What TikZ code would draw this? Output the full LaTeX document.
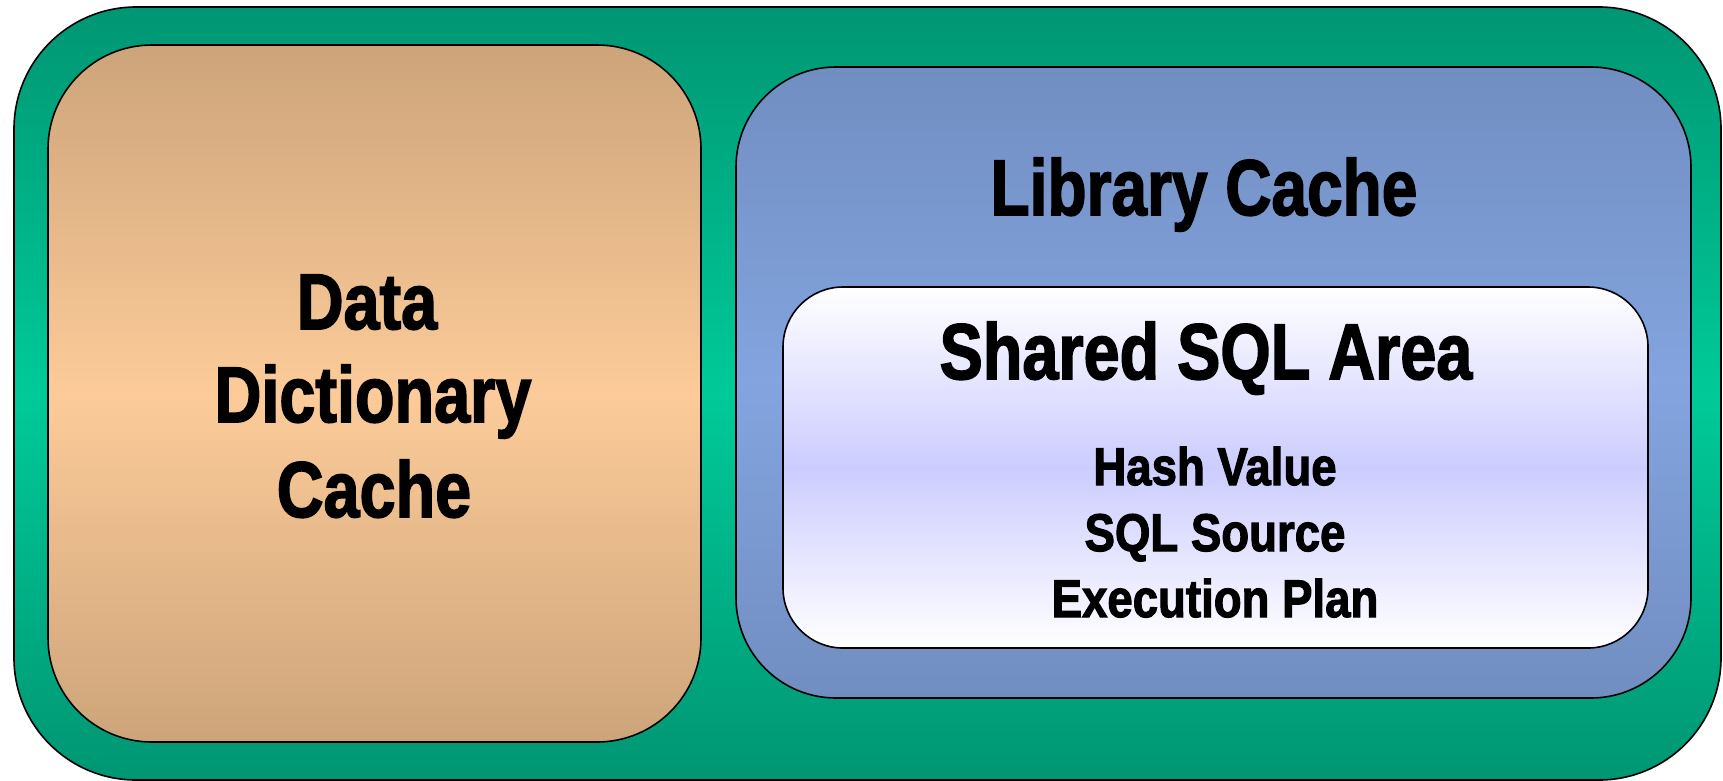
\documentclass[tikz,border=0pt]{standalone}
\usepackage{fontspec}
\setmainfont{Liberation Sans}
\newfontfamily\heavy{Liberation Sans Bold}[FakeBold=2.2]
\usepackage{graphicx}
\definecolor{grnDark}{RGB}{0,150,115}
\definecolor{grnLight}{RGB}{0,202,152}
\definecolor{tanDark}{RGB}{205,164,122}
\definecolor{tanLight}{RGB}{252,203,153}
\definecolor{bluDark}{RGB}{113,142,193}
\definecolor{bluLight}{RGB}{131,164,223}
\definecolor{lav}{RGB}{204,204,255}
\tikzset{
  panel/.style={draw=black, line width=1.6pt, rectangle, inner sep=0pt, outer sep=0pt},
  big/.style={anchor=base, inner sep=0pt, font=\heavy\fontsize{79}{96}\selectfont},
  small/.style={anchor=base, inner sep=0pt, font=\heavy\fontsize{53}{60}\selectfont},
}
\begin{document}
\begin{tikzpicture}[x=1pt,y=-1pt]
\useasboundingbox (0,0) rectangle (1723,780);
% outer green
\node[panel, rounded corners=122pt, minimum width=1707pt, minimum height=773pt,
      top color=grnDark, bottom color=grnDark, middle color=grnLight] (outer) at (867.5,393.5) {};
% data dictionary cache
\node[panel, rounded corners=104pt, minimum width=653pt, minimum height=697pt,
      top color=tanDark, bottom color=tanDark, middle color=tanLight] (ddc) at (374.5,393.5) {};
% library cache
\node[panel, rounded corners=100pt, minimum width=955pt, minimum height=631pt,
      top color=bluDark, bottom color=bluDark, middle color=bluLight] (lib) at (1213.5,382.5) {};
% shared sql area
\node[panel, rounded corners=60pt, minimum width=865pt, minimum height=361pt,
      top color=white, bottom color=white, middle color=lav] (sql) at (1215.5,467.5) {};
% texts
\node[big] (t1) at (367,329) {\scalebox{0.82}[1]{Data}};
\node[big] (t2) at (373,422) {\scalebox{0.82}[1]{Dictionary}};
\node[big] (t3) at (374,517) {\scalebox{0.82}[1]{Cache}};
\node[big] (t4) at (1204,215) {\scalebox{0.81}[1]{Library Cache}};
\node[big] (t5) at (1206,379) {\scalebox{0.82}[1]{Shared SQL Area}};
\node[small] (t6) at (1215,485) {\scalebox{0.86}[1]{Hash Value}};
\node[small] (t7) at (1215,551) {\scalebox{0.86}[1]{SQL Source}};
\node[small] (t8) at (1215,617) {\scalebox{0.86}[1]{Execution Plan}};
\end{tikzpicture}
\end{document}
